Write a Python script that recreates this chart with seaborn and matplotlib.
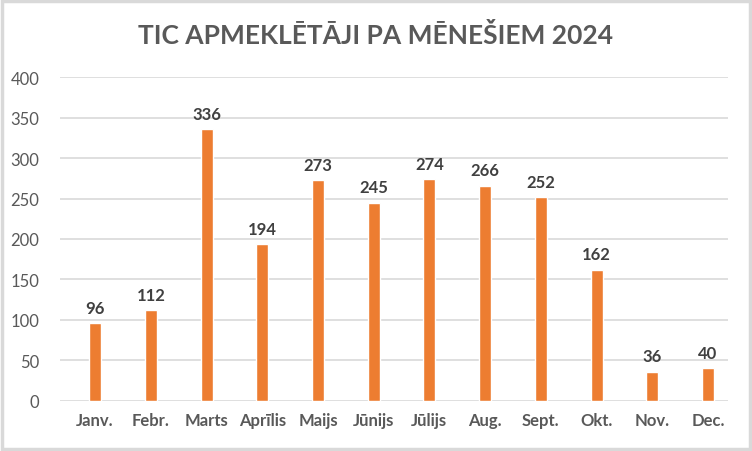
import matplotlib
matplotlib.use("Agg")
import matplotlib.pyplot as plt
import seaborn as sns
import pandas as pd

# data
months = ['Janv.', 'Febr.', 'Marts', 'Aprīlis', 'Maijs', 'Jūnijs',
          'Jūlijs', 'Aug.', 'Sept.', 'Okt.', 'Nov.', 'Dec.']
visitors = [96, 112, 336, 194, 273, 245, 274, 266, 252, 162, 36, 40]
y_ticks = [0, 50, 100, 150, 200, 250, 300, 350, 400]

df = pd.DataFrame({'month': months, 'visitors': visitors})

sns.set_theme(style='white')
plt.rcParams['font.family'] = ['Lato', 'DejaVu Sans']

fig = plt.figure(figsize=(7.52, 4.52), dpi=100)
ax = fig.add_axes([60 / 752, (452 - 401.7) / 452, 668 / 752, (401.7 - 78.3) / 452])

sns.barplot(data=df, x='month', y='visitors', color='#ED7D31',
            width=0.215, saturation=1, ax=ax, zorder=3)

# value labels above bars
for i, v in enumerate(visitors):
    ax.text(i, v + 9, str(v), ha='center', va='bottom', fontsize=12,
            fontweight='bold', color='#404040')

ax.set_ylim(0, 400)
ax.set_xlim(-0.63, 11.36)
ax.set_yticks(y_ticks)
ax.yaxis.grid(True, color='#D9D9D9', linewidth=1.2, zorder=0)
ax.set_axisbelow(True)
for s in ax.spines.values():
    s.set_visible(False)
ax.tick_params(axis='y', length=0, labelsize=12, labelcolor='#595959', pad=15)
ax.tick_params(axis='x', length=0, labelsize=12, labelcolor='#595959', pad=8)
for lbl in ax.get_xticklabels():
    lbl.set_fontweight('bold')
ax.set_xlabel('')
ax.set_ylabel('')

fig.text(0.5, 1 - 36 / 452, 'TIC APMEKLĒTĀJI PA MĒNEŠIEM 2024', ha='center', va='center',
         fontsize=19, fontweight='bold', color='#595959')

# light frame around the chart
fig.patches.append(plt.Rectangle((0.003, 0.004), 0.994, 0.992, transform=fig.transFigure,
                                 fill=False, edgecolor='#D9D9D9', linewidth=2.5))

fig.savefig('out.png', dpi=100)
